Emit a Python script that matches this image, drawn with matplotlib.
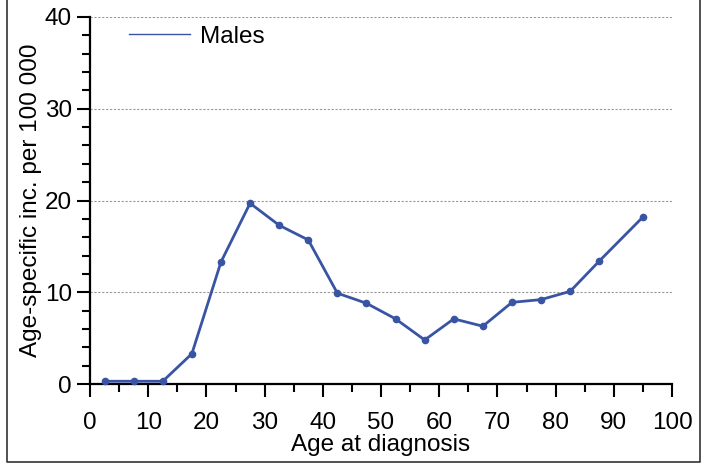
import matplotlib.pyplot as plt
from matplotlib.lines import Line2D
from matplotlib.ticker import MultipleLocator

plt.rcParams["font.family"] = ["Liberation Sans", "DejaVu Sans"]

# age group midpoints and incidence per 100 000
age = [2.5, 7.5, 12.5, 17.5, 22.5, 27.5, 32.5, 37.5, 42.5, 47.5,
       52.5, 57.5, 62.5, 67.5, 72.5, 77.5, 82.5, 87.5, 95]
males = [0.3, 0.3, 0.3, 3.3, 13.3, 19.7, 17.3, 15.7, 9.9, 8.8,
         7.1, 4.8, 7.1, 6.3, 8.9, 9.2, 10.1, 13.4, 18.2]

color = "#3a54a4"
fs = 17.5

fig = plt.figure(figsize=(7.1, 4.67), dpi=100)
ax = fig.add_axes([0.1268, 0.1777, 0.8197, 0.7859])

ax.plot(age, males, color=color, lw=2, marker="o", ms=4.5,
        clip_on=False, zorder=3)

ax.set_xlim(0, 100)
ax.set_ylim(0, 40)
ax.xaxis.set_major_locator(MultipleLocator(10))
ax.xaxis.set_minor_locator(MultipleLocator(5))
ax.yaxis.set_major_locator(MultipleLocator(10))
ax.yaxis.set_minor_locator(MultipleLocator(2))

for s in ["top", "right"]:
    ax.spines[s].set_visible(False)
for s in ["left", "bottom"]:
    ax.spines[s].set_linewidth(1.6)

ax.tick_params(which="major", length=9.5, width=1.5, labelsize=fs)
ax.tick_params(axis="x", which="major", pad=11)
ax.tick_params(axis="y", which="major", pad=3.5)
ax.tick_params(which="minor", length=5.5, width=1.5)

ax.grid(axis="y", which="major", linestyle=(0, (2, 1.5)), color="#999999", lw=0.8)

ax.set_xlabel("Age at diagnosis", fontsize=fs, labelpad=0)
ax.set_ylabel("Age-specific inc. per 100 000", fontsize=fs, labelpad=2)

ax.legend(handles=[Line2D([], [], color=color, lw=1)], labels=["Males"],
          loc="upper left", bbox_to_anchor=(0.067, 0.976), frameon=False,
          fontsize=fs, handlelength=2.5, handletextpad=0.41,
          borderpad=0, borderaxespad=0)

# frame around the figure (open at top)
fig.add_artist(Line2D([0.0099, 0.0099, 0.986, 0.986], [1.0, 0.0107, 0.0107, 1.0],
                      transform=fig.transFigure, color="#333333", lw=1.2))

fig.savefig("out.png", dpi=100)
